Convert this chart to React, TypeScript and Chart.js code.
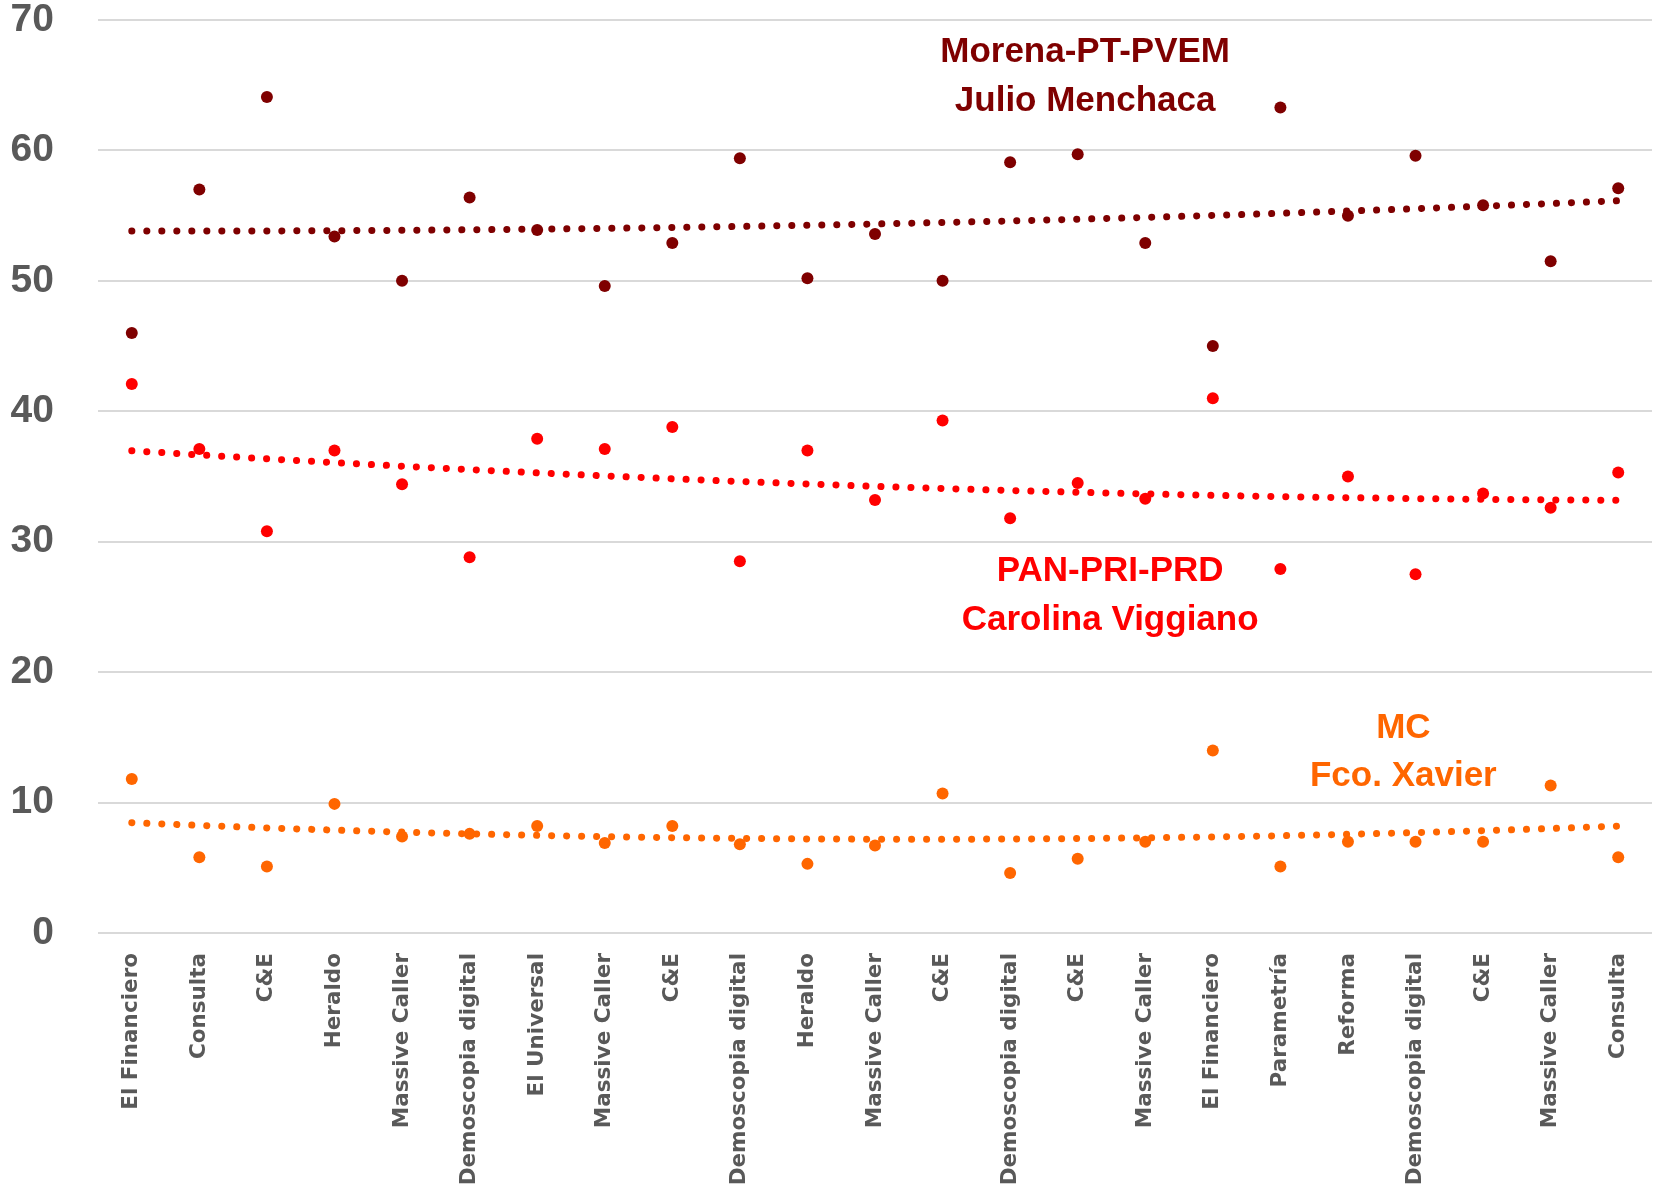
import React, { useEffect, useRef } from "react";
import { Chart, registerables } from "chart.js";

Chart.register(...registerables);

// ---- Data -------------------------------------------------------------
const categories = [
  "El Financiero",
  "Consulta",
  "C&E",
  "Heraldo",
  "Massive Caller",
  "Demoscopia digital",
  "El Universal",
  "Massive Caller",
  "C&E",
  "Demoscopia digital",
  "Heraldo",
  "Massive Caller",
  "C&E",
  "Demoscopia digital",
  "C&E",
  "Massive Caller",
  "El Financiero",
  "Parametría",
  "Reforma",
  "Demoscopia digital",
  "C&E",
  "Massive Caller",
  "Consulta",
];

const morenaValues = [
  46.0, 57.0, 64.1, 53.4, 50.0, 56.4, 53.9, 49.6, 52.9, 59.4, 50.2, 53.6,
  50.0, 59.1, 59.7, 52.9, 45.0, 63.3, 55.0, 59.6, 55.8, 51.5, 57.1,
];

const panValues = [
  42.1, 37.1, 30.8, 37.0, 34.4, 28.8, 37.9, 37.1, 38.8, 28.5, 37.0, 33.2,
  39.3, 31.8, 34.5, 33.3, 41.0, 27.9, 35.0, 27.5, 33.7, 32.6, 35.3,
];

const mcValues = [
  11.8, 5.8, 5.1, 9.9, 7.4, 7.6, 8.2, 6.9, 8.2, 6.8, 5.3, 6.7, 10.7, 4.6, 5.7,
  7.0, 14.0, 5.1, 7.0, 7.0, 7.0, 11.3, 5.8,
];

const yMin = 0;
const yMax = 70;
const yStep = 10;

const MORENA = "#7F0000";
const PAN = "#FF0000";
const MC = "#FF6600";

const seriesLabels = [
  { lines: ["Morena-PT-PVEM", "Julio Menchaca"], at: 14.11, values: [67.5, 63.8], color: MORENA },
  { lines: ["PAN-PRI-PRD", "Carolina Viggiano"], at: 14.48, values: [27.7, 24.0], color: PAN },
  { lines: ["MC", "Fco. Xavier"], at: 18.82, values: [15.7, 12.0], color: MC },
];

// Excel-style 2nd order polynomial trendline (least squares over the data)
function polyTrend(values: number[]): number[] {
  let s0 = 0, s1 = 0, s2 = 0, s3 = 0, s4 = 0, t0 = 0, t1 = 0, t2 = 0;
  values.forEach((v, k) => {
    const x = k + 1;
    s0 += 1; s1 += x; s2 += x * x; s3 += x ** 3; s4 += x ** 4;
    t0 += v; t1 += v * x; t2 += v * x * x;
  });
  const det = (m: number[][]) =>
    m[0][0] * (m[1][1] * m[2][2] - m[1][2] * m[2][1]) -
    m[0][1] * (m[1][0] * m[2][2] - m[1][2] * m[2][0]) +
    m[0][2] * (m[1][0] * m[2][1] - m[1][1] * m[2][0]);
  const A = [
    [s0, s1, s2],
    [s1, s2, s3],
    [s2, s3, s4],
  ];
  const B = [t0, t1, t2];
  const D = det(A);
  const coef = [0, 1, 2].map((c) => {
    const M = A.map((row, r) => row.map((val, j) => (j === c ? B[r] : val)));
    return det(M) / D;
  });
  return values.map((_, k) => {
    const x = k + 1;
    return coef[0] + coef[1] * x + coef[2] * x * x;
  });
}

const labelPlugin = {
  id: "seriesLabels",
  afterDatasetsDraw(chart: any) {
    const { ctx, scales } = chart;
    ctx.save();
    ctx.font = "bold 35px 'Liberation Sans', Arial, sans-serif";
    ctx.textAlign = "center";
    ctx.textBaseline = "middle";
    seriesLabels.forEach((lab) => {
      ctx.fillStyle = lab.color;
      const x = scales.x.getPixelForValue(lab.at);
      lab.lines.forEach((line, i) => {
        ctx.fillText(line, x, scales.y.getPixelForValue(lab.values[i]));
      });
    });
    ctx.restore();
  },
};

export default function App() {
  const canvasRef = useRef<HTMLCanvasElement | null>(null);

  useEffect(() => {
    const canvas = canvasRef.current;
    if (!canvas) return;

    const pointSet = (label: string, data: number[], color: string) => ({
      label,
      data,
      showLine: false,
      backgroundColor: color,
      borderColor: color,
      pointRadius: 6,
      pointHoverRadius: 6,
      pointBorderWidth: 0,
      order: 0,
    });
    const trendSet = (label: string, data: number[], color: string) => ({
      label,
      data: polyTrend(data),
      borderColor: color,
      backgroundColor: color,
      borderWidth: 7,
      borderDash: [0.1, 14.9],
      borderCapStyle: "round",
      pointRadius: 0,
      fill: false,
      tension: 0,
      order: 1,
    });

    const chart = new Chart(canvas, {
      type: "line",
      data: {
        labels: categories,
        datasets: [
          pointSet("Morena-PT-PVEM", morenaValues, MORENA),
          pointSet("PAN-PRI-PRD", panValues, PAN),
          pointSet("MC", mcValues, MC),
          trendSet("Tendencia Morena", morenaValues, MORENA),
          trendSet("Tendencia PAN", panValues, PAN),
          trendSet("Tendencia MC", mcValues, MC),
        ] as any,
      },
      options: {
        animation: false,
        responsive: false,
        devicePixelRatio: 1,
        layout: { padding: { top: 20, right: 9, left: 0, bottom: 0 } },
        plugins: {
          legend: { display: false },
          title: { display: false },
          tooltip: { enabled: false },
        },
        scales: {
          x: {
            offset: true,
            grid: {
              display: true,
              color: "rgba(0,0,0,0)",
              drawOnChartArea: false,
              drawTicks: true,
              tickLength: 20,
              tickColor: "rgba(0,0,0,0)",
            },
            border: { display: false },
            ticks: {
              autoSkip: false,
              minRotation: 90,
              maxRotation: 90,
              padding: 0,
              color: "#595959",
              font: { family: "'DejaVu Sans', Verdana, sans-serif", size: 21.5, weight: "bold" },
            },
            afterFit: (s: any) => {
              s.height = 253;
            },
          },
          y: {
            min: yMin,
            max: yMax,
            grid: {
              color: "#D9D9D9",
              lineWidth: 2,
              drawTicks: true,
              tickLength: 44,
              tickColor: "rgba(0,0,0,0)",
            },
            border: { display: false },
            ticks: {
              stepSize: yStep,
              padding: 0,
              color: "#595959",
              font: { family: "'Liberation Sans', Arial, sans-serif", size: 39, weight: "bold", lineHeight: 1 },
            },
            afterFit: (s: any) => {
              s.width = 98;
            },
          },
        },
      } as any,
      plugins: [labelPlugin],
    });

    return () => chart.destroy();
  }, []);

  return (
    <div style={{ position: "fixed", left: 0, top: 0, width: 1661, height: 1186, background: "#FFFFFF" }}>
      <canvas ref={canvasRef} width={1661} height={1186} style={{ width: 1661, height: 1186, display: "block" }} />
    </div>
  );
}
